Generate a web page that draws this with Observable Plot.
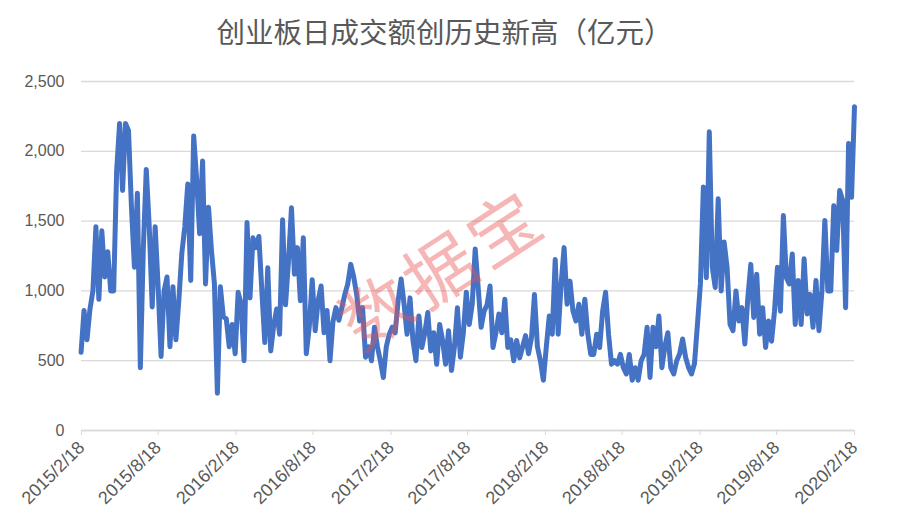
<!DOCTYPE html>
<html>
<head>
<meta charset="utf-8">
<script src="https://cdn.jsdelivr.net/npm/d3@7"></script>
<script src="https://cdn.jsdelivr.net/npm/@observablehq/plot@0.6"></script>
<style>
  html, body { margin: 0; padding: 0; background: #fff; }
  #wrap { position: relative; width: 897px; height: 531px; overflow: hidden; }
  #title { height: 60px; line-height: 62px; text-align: center; padding-right: 8px;
           font-family: "Noto Sans CJK SC", sans-serif; font-size: 28.5px; color: #595959; }
  #wm { position: absolute; left: 440px; top: 265px; transform: translate(-50%, -50%) rotate(-33deg);
        font-family: "Noto Sans CJK SC", sans-serif; font-size: 70px; font-weight: 400;
        color: rgba(236, 80, 80, 0.42); white-space: nowrap; letter-spacing: 6px; pointer-events: none; }
</style>
</head>
<body>
<div id="wrap">
  <div id="title">创业板日成交额创历史新高（亿元）</div>
  <div id="chart"></div>
  <div id="wm">数据宝</div>
</div>
<script>
const titleText = "创业板日成交额创历史新高（亿元）";
const watermark = "数据宝";
const seriesStart = "2015-02-17";   // weekly readings, one every 7 days
const turnover = [
  560, 860, 650, 870, 1000, 1460, 940, 1430, 1100, 1280,
  1000, 1000, 1860, 2200, 1720, 2200, 2150, 1600, 1170, 1700,
  450, 1300, 1870, 1460, 885, 1460, 1030, 530, 1000, 1100,
  600, 1030, 650, 935, 1270, 1460, 1765, 1075, 2110, 1800,
  1410, 1930, 1050, 1600, 1290, 1050, 267, 1030, 815, 800,
  600, 760, 550, 990, 905, 500, 1490, 950, 1380, 1310,
  1390, 1000, 630, 1165, 570, 750, 870, 690, 1510, 900,
  1215, 1595, 1120, 1310, 930, 1380, 550, 740, 1080, 715,
  930, 1035, 700, 860, 500, 780, 880, 790, 880, 975,
  1050, 1190, 1100, 975, 785, 880, 525, 600, 500, 740,
  600, 500, 380, 600, 690, 740, 700, 930, 1085, 905,
  690, 950, 645, 500, 820, 595, 700, 845, 570, 700,
  475, 760, 645, 475, 715, 430, 600, 880, 525, 700,
  990, 760, 905, 1300, 1025, 740, 855, 900, 1035, 595,
  700, 835, 700, 940, 595, 650, 500, 645, 520, 600,
  680, 550, 665, 975, 600, 500, 360, 600, 820, 690,
  1225, 690, 1050, 1310, 905, 1070, 855, 785, 905, 690,
  940, 690, 545, 545, 690, 595, 855, 990, 690, 475,
  500, 475, 545, 450, 405, 545, 360, 450, 360, 500,
  545, 740, 380, 740, 600, 820, 450, 600, 700, 450,
  405, 500, 550, 655, 525, 450, 405, 480, 760, 1050,
  1745, 1095, 2140, 1170, 1025, 1660, 1000, 1350, 1170, 760,
  715, 1000, 785, 880, 620, 950, 1190, 810, 1120, 690,
  880, 595, 785, 640, 855, 1170, 855, 1540, 1095, 1050,
  1265, 760, 1075, 760, 1230, 835, 975, 740, 1075, 715,
  1000, 1505, 1000, 1000, 1610, 1290, 1720, 1650, 880, 2055,
  1670, 2320
];
const xTickLabels = ["2015/2/18", "2015/8/18", "2016/2/18", "2016/8/18", "2017/2/18", "2017/8/18",
                     "2018/2/18", "2018/8/18", "2019/2/18", "2019/8/18", "2020/2/18"];
const yTicks = [0, 500, 1000, 1500, 2000, 2500];

const parse = d3.utcParse("%Y/%m/%d");
const xTicks = xTickLabels.map(parse);
const labelOf = new Map(xTicks.map((d, i) => [+d, xTickLabels[i]]));
const start = d3.utcParse("%Y-%m-%d")(seriesStart);
const data = turnover.map((v, i) => ({date: d3.utcDay.offset(start, 7 * i), value: v}));

const chart = Plot.plot({
  width: 897,
  height: 471,
  marginTop: 21,
  marginBottom: 101,
  marginLeft: 81,
  marginRight: 43,
  style: {fontFamily: "'Liberation Sans', Arial, sans-serif", fontSize: "16px", color: "#595959", background: "transparent"},
  x: {type: "utc", domain: [xTicks[0], xTicks[xTicks.length - 1]]},
  y: {domain: [0, 2500]},
  marks: [
    Plot.gridY(yTicks, {stroke: "#d9d9d9", strokeOpacity: 1, strokeWidth: 1.3}),
    Plot.axisY({ticks: yTicks, tickSize: 0, tickPadding: 17, fontSize: 16, tickFormat: d3.format(","), label: null}),
    Plot.ruleY([0], {stroke: "#d9d9d9", strokeWidth: 1.3}),
    Plot.axisX({ticks: xTicks, tickSize: 5, stroke: "#d9d9d9", tickRotate: -45, fontSize: 18, tickPadding: 9,
                tickFormat: d => labelOf.get(+d), label: null}),
    Plot.lineY(data, {x: "date", y: "value", stroke: "#4472C4", strokeWidth: 5, strokeLinejoin: "round", curve: "linear"})
  ]
});
document.getElementById("chart").appendChild(chart);
</script>
</body>
</html>
